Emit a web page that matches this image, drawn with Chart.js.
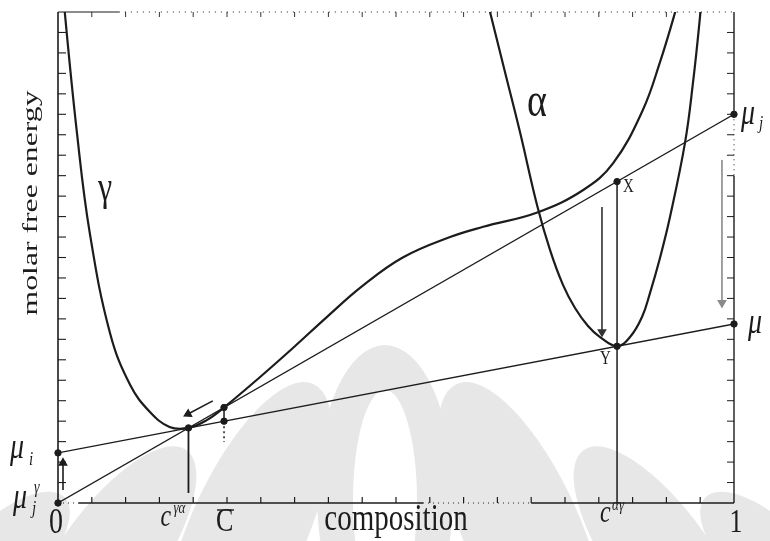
<!DOCTYPE html>
<html>
<head>
<meta charset="utf-8">
<script src="https://cdn.jsdelivr.net/npm/chart.js@4.4.1/dist/chart.umd.min.js"></script>
<style>
  html, body { margin: 0; padding: 0; background: #fff; }
  #wrap { width: 770px; height: 541px; position: relative; }
</style>
</head>
<body>
<div id="wrap"><canvas id="energyChart"></canvas></div>
<script>
// free energy curves: composition 0..1 on x, energy in arbitrary units 0..24 on y
const gammaX = [0.0085, 0.010, 0.028, 0.047, 0.077, 0.107, 0.136, 0.165, 0.193, 0.220, 0.2456, 0.299, 0.350, 0.398, 0.450, 0.510, 0.580, 0.629, 0.709, 0.777, 0.821, 0.865, 0.891, 0.913, 0.925];
const gammaY = [25.0, 24.0, 18.1, 13.2, 8.3, 5.75, 4.45, 3.72, 3.67, 4.05, 4.67, 6.16, 7.65, 9.1, 10.6, 12.0, 13.0, 13.5, 14.2, 15.3, 16.6, 19.2, 21.6, 24.0, 25.5];

const alphaX = [0.6315, 0.6391, 0.6612, 0.6834, 0.7086, 0.7278, 0.7470, 0.7648, 0.7840, 0.8018, 0.827, 0.8462, 0.8639, 0.8757, 0.8905, 0.9053, 0.9275, 0.9393, 0.9497, 0.9527];
const alphaY = [25.0, 24.0, 21.07, 18.13, 14.57, 12.37, 10.66, 9.53, 8.65, 8.11, 7.66, 8.11, 9.09, 10.26, 11.98, 13.98, 17.60, 20.53, 23.76, 25.0];

// chemical potentials where the two tangent lines hit x = 0 and x = 1
const muJGamma = 0, muJ = 19.0;
const muI = 2.45, muRight = 8.75;

// compositions marked under the axis
const cGammaAlpha = 0.193, cBar = 0.2456, cAlphaGamma = 0.827;

// marked points (μj^γ, μi, contact, C̄ upper/lower, X, Y, μj, μ)
const dotsX = [0, 0, 0.193, 0.2456, 0.2456, 0.827, 0.827, 1, 1];
const dotsY = [0, 2.45, 3.67, 4.67, 4.0, 15.71, 7.66, 19.0, 8.75];

// arrows, tail then head: [x0, y0, x1, y1]
const arrowUp = [0.0074, 0.64, 0.0074, 1.96];
const arrowBack = [0.229, 4.99, 0.1923, 4.35];
const arrowDown = [0.8047, 14.47, 0.8047, 8.36];
const arrowDrop = [0.9822, 16.77, 0.9822, 9.78];

const pts = (xs, ys) => xs.map((x, i) => ({ x: x, y: ys[i] }));
const ink = '#1c1c1c';

const lineSet = (data, extra) => Object.assign({
  data: data, showLine: true, borderColor: ink, borderWidth: 1.3,
  pointRadius: 0, tension: 0
}, extra || {});

const arrowSet = (a, color) => ({
  data: [{ x: a[0], y: a[1] }, { x: a[2], y: a[3] }],
  showLine: true, borderColor: color, borderWidth: 1.6,
  backgroundColor: color, pointBorderColor: color,
  pointRadius: [0, 4], pointStyle: 'triangle',
  rotation: (c) => {
    const sx = c.chart.scales.x, sy = c.chart.scales.y;
    const dx = sx.getPixelForValue(a[2]) - sx.getPixelForValue(a[0]);
    const dy = sy.getPixelForValue(a[3]) - sy.getPixelForValue(a[1]);
    return Math.atan2(dx, -dy) * 180 / Math.PI;
  }
});

// light grey emblem behind the plot
const watermark = {
  id: 'watermark',
  beforeDraw(chart) {
    const ctx = chart.ctx;
    ctx.save();
    ctx.fillStyle = '#fff';
    ctx.fillRect(0, 0, chart.width, chart.height);
    ctx.fillStyle = '#e7e7e7';
    const blob = (cx, cy, rx, ry, rot) => {
      ctx.beginPath();
      ctx.ellipse(cx, cy, rx, ry, rot, 0, Math.PI * 2);
      ctx.fill();
    };
    blob(385, 495, 68, 150, 0);
    [[248, 530, 58, 160, 0.42], [108, 560, 50, 135, 0.62], [0, 560, 38, 90, 0.8]].forEach(p => {
      blob(p[0], p[1], p[2], p[3], p[4]);
      blob(770 - p[0], p[1], p[2], p[3], -p[4]);
    });
    ctx.fillStyle = '#fff';
    blob(385, 500, 32, 110, 0);
    ctx.restore();
  }
};

// axes box with inward ticks
const frame = {
  id: 'frame',
  beforeDatasetsDraw(chart) {
    const { ctx, chartArea: a, scales: { x, y } } = chart;
    ctx.save();
    ctx.strokeStyle = ink;
    const seg = (x0, y0, x1, y1, w, dash) => {
      ctx.lineWidth = w;
      ctx.setLineDash(dash || []);
      ctx.beginPath(); ctx.moveTo(x0, y0); ctx.lineTo(x1, y1); ctx.stroke();
    };
    const X = v => x.getPixelForValue(v), Y = v => y.getPixelForValue(v);
    // left and right
    seg(a.left, a.top, a.left, a.bottom, 1.6);
    seg(a.right, a.top, a.right, Y(19), 1.4);
    seg(a.right, Y(19), a.right, Y(16), 1, [1, 4]);
    seg(a.right, Y(16), a.right, a.bottom, 1.4);
    // bottom
    seg(a.left, a.bottom, X(0.03), a.bottom, 1, [1, 4]);
    seg(X(0.03), a.bottom, X(0.54), a.bottom, 1.4);
    seg(X(0.54), a.bottom, X(0.70), a.bottom, 1, [1, 4]);
    seg(X(0.70), a.bottom, a.right, a.bottom, 1.6);
    // top
    seg(a.left, a.top, X(0.09), a.top, 1.2);
    seg(X(0.09), a.top, a.right, a.top, 1, [1, 5]);
    ctx.setLineDash([]);
    for (let i = 1; i < 20; i++) {
      const px = X(i * 0.05);
      seg(px, a.bottom, px, a.bottom - 6, 1.2);
      seg(px, a.top, px, a.top + 5, 0.9);
    }
    for (let j = 1; j < 24; j++) {
      const py = Y(j);
      seg(a.left, py, a.left + 8, py, 1.1);
      seg(a.right, py, a.right - 7, py, 1);
    }
    ctx.restore();
  }
};

function txt(ctx, s, px, py, size, opt) {
  opt = opt || {};
  ctx.save();
  ctx.font = (opt.italic ? 'italic ' : '') + size + 'px "Liberation Serif", "DejaVu Serif", serif';
  ctx.fillStyle = opt.color || ink;
  ctx.textAlign = opt.align || 'left';
  ctx.textBaseline = 'alphabetic';
  ctx.translate(px, py);
  ctx.scale(opt.sx || 1, opt.sy || 1.3);
  ctx.fillText(s, 0, 0);
  ctx.restore();
}

// axis titles, phase names and symbols
const labels = {
  id: 'labels',
  afterDraw(chart) {
    const { ctx, scales: { x, y } } = chart;
    const X = v => x.getPixelForValue(v), Y = v => y.getPixelForValue(v);

    ctx.save();
    ctx.translate(37, 203);
    ctx.rotate(-Math.PI / 2);
    ctx.font = '22px "Liberation Serif", serif';
    ctx.fillStyle = ink;
    const w = ctx.measureText('molar free energy').width;
    ctx.scale(225 / w, 1);
    ctx.textAlign = 'center';
    ctx.fillText('molar free energy', 0, 0);
    ctx.restore();

    txt(ctx, 'γ', 98, 200, 32);
    txt(ctx, 'α', 527, 116, 38);

    // left side potentials
    txt(ctx, 'μ', 10, 458, 28, { italic: true });
    txt(ctx, 'i', 29, 465, 15, { italic: true });
    txt(ctx, 'μ', 13, Y(muJGamma) + 5, 28, { italic: true });
    txt(ctx, 'j', 32, Y(muJGamma) + 11, 15, { italic: true });
    txt(ctx, 'γ', 34, Y(muJGamma) - 10, 14, { italic: true });

    // right side potentials
    txt(ctx, 'μ', X(1) + 7, Y(muJ) + 10, 28, { italic: true });
    txt(ctx, 'j', X(1) + 25, Y(muJ) + 15, 15, { italic: true });
    txt(ctx, 'μ', X(1) + 14, Y(muRight) + 9, 28, { italic: true });

    // X and Y on the c^αγ line
    txt(ctx, 'X', X(cAlphaGamma) + 6, Y(15.71) + 10, 15);
    txt(ctx, 'Y', X(cAlphaGamma) - 17, Y(7.66) + 18, 15);

    // composition axis
    txt(ctx, '0', X(0) - 2, 533, 28, { align: 'center' });
    txt(ctx, 'c', X(cGammaAlpha) - 28, 526, 24, { italic: true });
    txt(ctx, 'γα', X(cGammaAlpha) - 15, 513, 13, { italic: true });
    txt(ctx, 'C', X(cBar) - 8, 531, 26);
    ctx.save();
    ctx.strokeStyle = ink; ctx.lineWidth = 1.4;
    ctx.beginPath(); ctx.moveTo(X(cBar) - 7, 510); ctx.lineTo(X(cBar) + 10, 510); ctx.stroke();
    ctx.restore();
    txt(ctx, 'composition', 396, 530, 29, { align: 'center' });
    txt(ctx, 'c', X(cAlphaGamma) - 17, 522, 24, { italic: true });
    txt(ctx, 'αγ', X(cAlphaGamma) - 5, 510, 13, { italic: true });
    txt(ctx, '1', X(1) + 2, 532, 26, { align: 'center' });
  }
};

new Chart(document.getElementById('energyChart'), {
  type: 'scatter',
  data: {
    datasets: [
      lineSet(pts(gammaX, gammaY), { borderWidth: 2.2, tension: 0.4 }),
      lineSet(pts(alphaX, alphaY), { borderWidth: 2.2, tension: 0.4 }),
      lineSet([{ x: 0, y: muJGamma }, { x: 1, y: muJ }]),
      lineSet([{ x: 0, y: muI }, { x: 1, y: muRight }]),
      lineSet([{ x: cGammaAlpha, y: 3.67 }, { x: cGammaAlpha, y: 0.49 }], { borderWidth: 1.8 }),
      lineSet([{ x: cAlphaGamma, y: 15.71 }, { x: cAlphaGamma, y: 0 }], { borderWidth: 1.5 }),
      lineSet([{ x: cBar, y: 4.67 }, { x: cBar, y: 4.0 }], { borderWidth: 1.5 }),
      lineSet([{ x: cBar, y: 4.0 }, { x: cBar, y: 2.98 }], { borderWidth: 1.5, borderDash: [2, 3] }),
      arrowSet(arrowUp, ink),
      arrowSet(arrowBack, ink),
      arrowSet(arrowDown, '#333'),
      arrowSet(arrowDrop, '#8a8a8a'),
      {
        data: pts(dotsX, dotsY), showLine: false, clip: false,
        pointRadius: 3.2, pointStyle: 'circle',
        backgroundColor: ink, borderColor: ink
      }
    ]
  },
  options: {
    responsive: true,
    maintainAspectRatio: false,
    animation: false,
    layout: { padding: { left: 58, right: 36, top: 12, bottom: 38 } },
    plugins: { legend: { display: false }, tooltip: { enabled: false } },
    scales: {
      x: { type: 'linear', min: 0, max: 1, display: false },
      y: { type: 'linear', min: 0, max: 24, display: false }
    }
  },
  plugins: [watermark, frame, labels]
});
</script>
</body>
</html>
